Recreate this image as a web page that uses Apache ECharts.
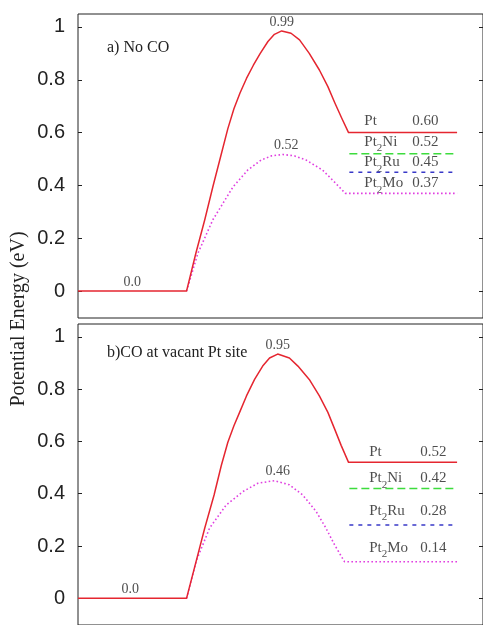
<!DOCTYPE html>
<html><head><meta charset="utf-8">
<script src="https://cdn.jsdelivr.net/npm/echarts@6/dist/echarts.min.js"></script>
<style>html,body{margin:0;padding:0;background:#fff}#c{width:483px;height:625px}</style>
</head><body><div id="c"></div>
<script>
// ---------- data ----------
const yTicks = [0, 0.2, 0.4, 0.6, 0.8, 1];
const catalysts = ['Pt', 'Pt2Ni', 'Pt2Ru', 'Pt2Mo'];
const panelTitles = ['a) No CO', 'b)CO at vacant Pt site'];
const startLabel = '0.0';

// panel a (reaction coordinate, energy eV)
const aRedX = [0, 2.68, 2.91, 3.13, 3.33, 3.54, 3.70, 3.85, 4.00, 4.16, 4.33, 4.50, 4.69, 4.85, 5.03, 5.26, 5.47, 5.71, 5.96, 6.17, 6.34, 6.51, 6.68, 9.36];
const aRedY = [0, 0, 0.143, 0.27, 0.395, 0.52, 0.615, 0.69, 0.75, 0.805, 0.855, 0.90, 0.945, 0.972, 0.985, 0.976, 0.951, 0.90, 0.837, 0.774, 0.713, 0.655, 0.60, 0.60];
const aMagX = [2.68, 2.96, 3.33, 3.83, 4.19, 4.52, 4.78, 5.06, 5.34, 5.63, 6.04, 6.37, 6.60, 9.36];
const aMagY = [0, 0.143, 0.27, 0.395, 0.458, 0.496, 0.512, 0.517, 0.512, 0.496, 0.458, 0.407, 0.37, 0.37];
const aLevels = [0.60, 0.52, 0.45, 0.37];
const aPeakLabels = ['0.99', '0.52'];

// panel b
const bRedX = [0, 2.68, 2.92, 3.13, 3.36, 3.54, 3.70, 3.85, 3.99, 4.16, 4.36, 4.56, 4.73, 4.93, 5.22, 5.43, 5.71, 5.96, 6.17, 6.33, 6.50, 6.68, 9.36];
const bRedY = [0, 0, 0.143, 0.269, 0.395, 0.509, 0.597, 0.66, 0.711, 0.774, 0.837, 0.888, 0.919, 0.934, 0.919, 0.888, 0.837, 0.774, 0.711, 0.650, 0.584, 0.52, 0.52];
const bMagX = [2.68, 2.92, 3.25, 3.66, 4.07, 4.44, 4.85, 5.22, 5.55, 5.88, 6.12, 6.33, 6.58, 9.36];
const bMagY = [0, 0.143, 0.269, 0.357, 0.408, 0.44, 0.45, 0.434, 0.395, 0.332, 0.269, 0.206, 0.14, 0.14];
const bLevels = [0.52, 0.42, 0.28, 0.14];
const bPeakLabels = ['0.95', '0.46'];

const levelStart = 6.70, levelEnd = 9.36;

// ---------- layout / style ----------
const SERIF = '"Liberation Serif","DejaVu Serif",serif';
const SANS = '"Liberation Sans",Arial,sans-serif';
const TXT = '#222';
const colors = { red: '#e52630', green: '#3ddc3d', blue: '#3838c8', mag: '#e040e0' };
const panels = [
  { top: 14, titleDy: 21, nameX: 7.07, valX: 8.25, lift: [12, 12, 10, 10] },
  { top: 324, titleDy: 16, nameX: 7.19, valX: 8.45, lift: [10, 10, 14, 14] }
];
const zip = (xs, ys) => xs.map((x, i) => [x, ys[i]]);
const richName = s => s.replace(/^Pt2(.*)$/, '{n|Pt}{s|2}{n|$1}').replace(/^Pt$/, '{n|Pt}');
const rich = {
  n: { fontFamily: SERIF, fontSize: 15, color: TXT, lineHeight: 24, verticalAlign: 'middle' },
  s: { fontFamily: SERIF, fontSize: 11, color: TXT, lineHeight: 24, verticalAlign: 'bottom' }
};

const grids = [], xAxes = [], yAxes = [], series = [], titles = [];
const panelData = [
  { redX: aRedX, redY: aRedY, magX: aMagX, magY: aMagY, levels: aLevels, peaks: aPeakLabels },
  { redX: bRedX, redY: bRedY, magX: bMagX, magY: bMagY, levels: bLevels, peaks: bPeakLabels }
];

panelData.forEach((d, p) => {
  const L = panels[p];
  grids.push({ left: 78, width: 406, top: L.top, height: 304, show: true, borderColor: '#222', borderWidth: 1, backgroundColor: 'transparent' });
  xAxes.push({ gridIndex: p, type: 'value', min: 0, max: 10, show: false });
  const yBase = { gridIndex: p, type: 'value', min: -0.102, max: 1.049, splitLine: { show: false }, axisLine: { show: false } };
  yAxes.push(Object.assign({}, yBase, {
    position: 'left',
    axisTick: { show: true, inside: true, length: 4, lineStyle: { color: '#222' }, customValues: yTicks },
    axisLabel: { show: true, margin: 13, fontFamily: SANS, fontSize: 20, color: TXT, customValues: yTicks, formatter: v => String(+v.toFixed(1)) }
  }));
  yAxes.push(Object.assign({}, yBase, {
    position: 'right',
    axisTick: { show: true, inside: true, length: 4, lineStyle: { color: '#222' }, customValues: yTicks },
    axisLabel: { show: false }
  }));
  const yi = p * 2;
  const red = zip(d.redX, d.redY), mag = zip(d.magX, d.magY);
  series.push({ type: 'line', xAxisIndex: p, yAxisIndex: yi, data: red, symbol: 'none', lineStyle: { color: colors.red, width: 1.5, join: 'round' }, z: 5 });
  series.push({ type: 'line', xAxisIndex: p, yAxisIndex: yi, data: [[levelStart, d.levels[1]], [levelEnd, d.levels[1]]], symbol: 'none', lineStyle: { color: colors.green, width: 1.5, type: [8, 4] } });
  series.push({ type: 'line', xAxisIndex: p, yAxisIndex: yi, data: [[levelStart, d.levels[2]], [levelEnd, d.levels[2]]], symbol: 'none', lineStyle: { color: colors.blue, width: 1.5, type: [4, 5] } });
  series.push({ type: 'line', xAxisIndex: p, yAxisIndex: yi, data: mag, symbol: 'none', lineStyle: { color: colors.mag, width: 1.6, type: [1.6, 2.4] } });

  // peak + start labels
  const peakOf = arr => arr.reduce((m, q) => (q[1] > m[1] ? q : m), arr[0]);
  const pr = peakOf(red), pm = peakOf(mag);
  const annot = [
    { value: [pr[0], pr[1]], text: d.peaks[0] },
    { value: [pm[0] + 0.08, pm[1]], text: d.peaks[1] },
    { value: [(d.redX[0] + d.redX[1]) / 2 - 0.05 * p, 0], text: startLabel }
  ];
  series.push({
    type: 'scatter', xAxisIndex: p, yAxisIndex: yi, symbolSize: 0, silent: true,
    data: annot.map(a => ({ value: a.value, label: { formatter: a.text } })),
    label: { show: true, position: 'top', distance: 2, fontFamily: SERIF, fontSize: 14, color: TXT }
  });
  // level labels
  const lvl = [];
  catalysts.forEach((c, i) => {
    lvl.push({ value: [L.nameX, d.levels[i]], label: { formatter: richName(c), offset: [0, -L.lift[i]], rich } });
    lvl.push({ value: [L.valX, d.levels[i]], label: { formatter: d.levels[i].toFixed(2), offset: [0, -L.lift[i]] } });
  });
  series.push({
    type: 'scatter', xAxisIndex: p, yAxisIndex: yi, symbolSize: 0, silent: true, data: lvl,
    label: { show: true, position: 'right', distance: 0, fontFamily: SERIF, fontSize: 15, color: TXT }
  });
  titles.push({ text: panelTitles[p], left: 102, top: L.top + L.titleDy, textStyle: { fontFamily: SERIF, fontSize: 16, fontWeight: 'normal', color: TXT } });
});

const chart = echarts.init(document.getElementById('c'), null, { renderer: 'canvas' });
chart.setOption({
  animation: false,
  backgroundColor: '#fff',
  title: titles,
  grid: grids, xAxis: xAxes, yAxis: yAxes, series,
  graphic: [{
    type: 'text', x: 19, y: 319, rotation: Math.PI / 2,
    style: { text: 'Potential Energy (eV)', fontFamily: SERIF, fontSize: 20, fill: TXT, align: 'center', verticalAlign: 'middle' }
  }]
});
</script></body></html>
